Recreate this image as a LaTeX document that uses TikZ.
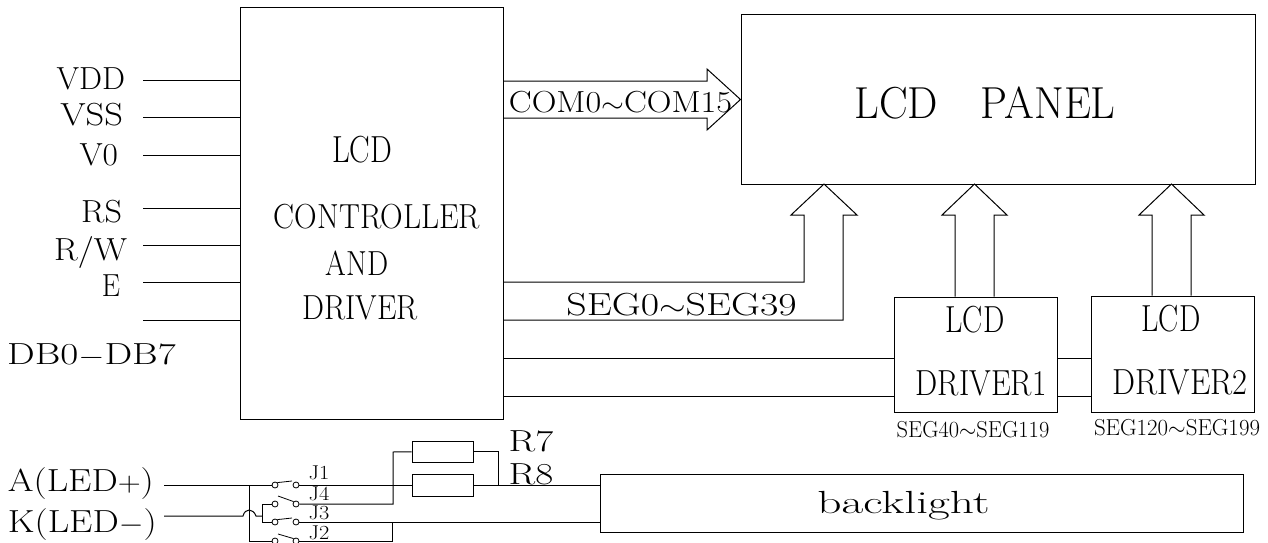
\documentclass[tikz,border=0pt]{standalone}
\usepackage{amsmath}
\usepackage{amssymb}
\usepackage{graphicx}
\usetikzlibrary{positioning}

\newcommand{\txtfont}[1]{\fontsize{#1}{#1}\selectfont}
\newcommand{\stretched}[3]{\scalebox{#1}[#2]{#3}}

\tikzset{
    blockbox/.style={draw, line width=1pt, inner sep=0pt},
    plain/.style={inner sep=0pt, outer sep=0pt},
    biglabel/.style={plain, font=\txtfont{29}},
    smalllabel/.style={plain, font=\txtfont{21}},
    jumper/.style={plain, font=\txtfont{20}},
    contact/.style={circle, draw, line width=0.8pt, inner sep=0pt, minimum size=6pt, fill=white},
    wire/.style={line width=1pt},
    blade/.style={line width=0.8pt}
}

\begin{document}
\begin{tikzpicture}[x=1pt, y=-1pt, line width=1pt]

        \useasboundingbox (0,0) rectangle (1268,543);

        % main blocks
        \node[blockbox, minimum width=263pt, minimum height=411pt] (CTRL) at (371.5,213.5) {};
        \node[blockbox, minimum width=514pt, minimum height=169pt] (PANEL) at (998,99.5) {};
        \node[blockbox, minimum width=163pt, minimum height=115pt] (DRV1) at (975.5,354.5) {};
        \node[blockbox, minimum width=163pt, minimum height=116pt] (DRV2) at (1172.5,354) {};
        \node[blockbox, minimum width=643pt, minimum height=58pt] (BL) at (921.5,503) {};
        \node[blockbox, minimum width=61pt, minimum height=21pt] (R7) at (442.5,451.5) {};
        \node[blockbox, minimum width=61pt, minimum height=22pt] (R8) at (442.5,485) {};

        % block texts
        \node[biglabel] (tLCD) at (362,150) {\stretched{1.06}{1.3}{LCD}};
        \node[biglabel] (tCTRL) at (377,217) {\stretched{1.08}{1.2}{CONTROLLER}};
        \node[biglabel] (tAND) at (357,263) {\stretched{1.03}{1.2}{AND}};
        \node[biglabel] (tDRV) at (360,308) {\stretched{1.07}{1.2}{DRIVER}};
        \node[plain, font=\txtfont{39}] (tPANEL) at (985,103) {\stretched{1.1}{1.15}{LCD\quad PANEL}};
        \node[biglabel] (tLCD1) at (975,320) {\stretched{1.04}{1.3}{LCD}};
        \node[biglabel] (tDRV1) at (981,383) {\stretched{1.08}{1.25}{DRIVER1}};
        \node[biglabel] (tLCD2) at (1171,319) {\stretched{1.04}{1.3}{LCD}};
        \node[biglabel] (tDRV2) at (1180,382) {\stretched{1.12}{1.25}{DRIVER2}};
        \node[smalllabel] (tSEG1) at (973,430) {\stretched{1.07}{1.1}{SEG40$\sim$SEG119}};
        \node[smalllabel] (tSEG2) at (1177,428) {\stretched{1.09}{1.1}{SEG120$\sim$SEG199}};
        \node[biglabel] (tCOM) at (620.5,102) {\stretched{1.18}{1.05}{COM0$\sim$COM15}};
        \node[biglabel] (tSEG) at (681.5,305) {\stretched{1.375}{1.1}{SEG0$\sim$SEG39}};
        \node[plain, font=\txtfont{32}] (tBL) at (903.5,506) {\stretched{1.48}{1}{backlight}};

        % pins of the controller
        \foreach \name/\txt/\ypos/\ytxt/\xtxt/\sx in {
            VDD/VDD/80/79/125/1.12, VSS/VSS/117/115/123/1.26, VO/V0/155/155/118/1.15,
            RS/RS/208/212/122/1.18, RW/R\slash W/245/253/127/1.2, EN/E/282/286/120/1} {
            \coordinate (\name) at (143,\ypos);
            \node[biglabel, anchor=east] (t\name) at (\xtxt,\ytxt) {\stretched{\sx}{1.1}{\txt}};
            \draw (\name) -- (\name -| CTRL.west);
        }
        \coordinate (DB) at (143,320);
        \draw (DB) -- (DB -| CTRL.west);
        \node[biglabel] (tDB) at (91.5,355) {\stretched{1.35}{1.05}{DB0$-$DB7}};

        % bus to the panel
        \coordinate (comA) at (503,81);
        \coordinate (comB) at (503,118);
        \draw (comA) -- (707,81) -- (707,69) -- (PANEL.west) -- (707,130) -- (707,118) -- (comB);

        \coordinate (segA) at (503,282);
        \coordinate (segB) at (503,320);
        \coordinate (segTip) at (824,184);
        \draw (segA) -- (804,282) -- (804,215) -- (791,215) -- (segTip) -- (857,215) -- (843,215) -- (843,320) -- (segB);

        \foreach \drv/\xl/\xr in {DRV1/955/994, DRV2/1152/1191} {
            \coordinate (\drv tip) at ({(\xl+\xr)/2},184);
            \coordinate (\drv l) at (\xl,0 |- \drv.north);
            \coordinate (\drv r) at (\xr,0 |- \drv.north);
            \draw (\drv l) -- (\xl,215) -- (\xl-13,215) -- (\drv tip) -- (\xr+13,215) -- (\xr,215) -- (\drv r);
        }

        % links between the drivers
        \foreach \ypos in {358,396} {
            \coordinate (lnk\ypos) at (503,\ypos);
            \draw (lnk\ypos) -- (lnk\ypos -| DRV1.west);
            \draw (lnk\ypos -| DRV1.east) -- (lnk\ypos -| DRV2.west);
        }

        % backlight supply
        \node[plain, font=\txtfont{29}, anchor=west] (tA) at (8,484) {\stretched{1.28}{1.1}{A(LED$+$)}};
        \node[plain, font=\txtfont{29}, anchor=west] (tK) at (8,525) {\stretched{1.28}{1.1}{K(LED$-$)}};
        \node[biglabel] (tR7) at (531,441) {\stretched{1.35}{1.05}{R7}};
        \node[biglabel] (tR8) at (531,474) {\stretched{1.35}{1.05}{R8}};

        \foreach \sw/\ypos in {a/485, b/504, c/522, d/541} {
            \node[contact] (\sw L) at (275,\ypos) {};
            \node[contact] (\sw R) at (296,\ypos) {};
        }
        \node[jumper] (J1) at (319,473) {\stretched{1.12}{1}{J1}};
        \node[jumper] (J4) at (319,494) {\stretched{1.12}{1}{J4}};
        \node[jumper] (J3) at (319,513) {\stretched{1.12}{1}{J3}};
        \node[jumper] (J2) at (319,533) {\stretched{1.12}{1}{J2}};

        \draw[blade] (aL.north east) -- (292,481);
        \draw[blade] (278,496) -- (bR.north west);
        \draw[blade] (cL.north east) -- (292,518);
        \draw[blade] (278,534) -- (dR.north west);

        \coordinate (Aend) at (164,485);
        \coordinate (Kend) at (164,516);
        \coordinate (nodeA) at (249,485);
        \coordinate (nodeK) at (262,516);
        \coordinate (tieJ) at (392,541);
        \coordinate (tieR) at (393,452);
        \coordinate (tieP) at (498,485);

        \draw[wire] (Aend) -- (aL);
        \draw[wire] (aR) -- (R8);
        \draw[wire] (R8) -- (R8 -| BL.west);
        \draw[wire] (R7) -- (tieP |- R7) -- (tieP);
        \draw[wire] (bR) -- (393,504) -- (tieR) -- (R7);
        \draw[wire] (cR) -- (cR -| BL.west);
        \draw[wire] (nodeA) -- (249,541) -- (dL);
        \draw[wire] (dR) -- (tieJ) -- (392,522);
        \draw[wire] (Kend) -- (243,516) .. controls (245,508) and (253,508) .. (256,516) -- (nodeK);
        \draw[wire] (bL) -- (262,504) -- (262,522) -- (cL);

        \end{tikzpicture}
\end{document}
